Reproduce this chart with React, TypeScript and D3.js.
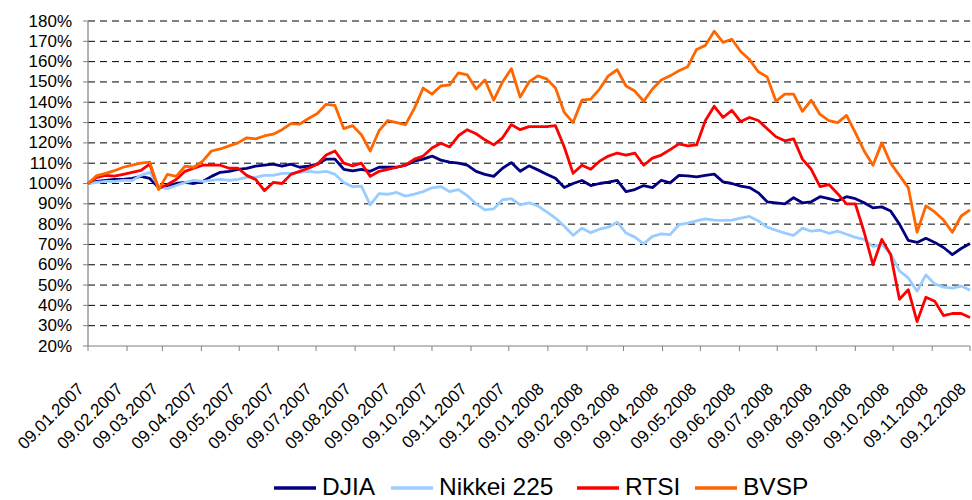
import * as d3 from 'd3';

// month labels on the x axis (dd.mm.yyyy)
const MONTH_LABELS = [
  '09.01.2007', '09.02.2007', '09.03.2007', '09.04.2007', '09.05.2007', '09.06.2007',
  '09.07.2007', '09.08.2007', '09.09.2007', '09.10.2007', '09.11.2007', '09.12.2007',
  '09.01.2008', '09.02.2008', '09.03.2008', '09.04.2008', '09.05.2008', '09.06.2008',
  '09.07.2008', '09.08.2008', '09.09.2008', '09.10.2008', '09.11.2008', '09.12.2008',
];

const Y_TICKS = [20, 30, 40, 50, 60, 70, 80, 90, 100, 110, 120, 130, 140, 150, 160, 170, 180];

// weekly readings (every Tuesday, 09.01.2007 .. 09.12.2008), % of start level
const DJIA = [
  100, 101, 101.5, 102, 102, 102.5, 103.5, 102.5, 98, 99,
  100, 100.5, 100, 101, 103.5, 105.5, 106, 107, 107.5, 108.5,
  109, 109.5, 108.5, 109.5, 108, 108.5, 109.5, 112, 112, 107,
  106.2, 107, 106, 108, 108, 108, 109, 111, 112, 113.5,
  111.5, 110.5, 110, 109, 106, 104.5, 103.5, 107.5, 110.3, 106,
  108.7, 106.7, 104.6, 102.6, 98, 100, 101.5, 99, 100, 100.7,
  101.5, 96, 97, 99, 98, 101.6, 100.3, 104, 103.8, 103.3,
  104, 104.6, 100.8, 100, 98.7, 98, 95.4, 91, 90.5, 90,
  93, 90.5, 91, 93.5, 92.5, 91.5, 93.5, 92.5, 90.5, 88,
  88.5, 86.5, 80, 72, 71, 73, 71, 68.5, 65, 68, 70.5,
];

const NIKKEI = [
  100, 100.5, 101, 101, 101.5, 101.5, 104, 105.5, 98.5, 97.5,
  99, 100.5, 101.5, 101, 101.5, 102, 101.5, 102, 103, 103,
  104, 104, 105, 105, 105.5, 106, 105.5, 106, 104.6, 100.5,
  98.4, 98.7, 89.5, 95, 94.7, 95.6, 93.8, 94.8, 96, 97.9,
  98.5, 96, 97, 94, 90, 87, 87.5, 92, 92.5, 89.5,
  90.5, 89, 86, 83, 79, 74.5, 78, 75.8, 77.5, 78.5,
  81, 75.6, 73.6, 70.3, 74, 75.2, 74.8, 79.7, 80.5, 81.6,
  82.6, 82, 81.8, 82, 83, 83.8, 81.6, 78.5, 77, 75.6,
  74.5, 78, 76.5, 77, 75.5, 76.5, 75, 73.5, 72.5, 69,
  70, 65.5, 57, 53.5, 47, 55, 50.5, 49, 48.5, 49.5, 47.5,
];

const RTSI = [
  100, 103, 104, 103.6, 104.5, 105.5, 106.5, 109.5, 97.5, 99.5,
  102, 106, 107.5, 109, 109, 109, 107.5, 107.5, 104, 102,
  96.5, 100.5, 100, 104.5, 106, 107.5, 109.5, 114, 116, 110,
  108.7, 110, 103.5, 106, 107, 108, 109, 112, 113.5, 117.5,
  119.8, 118, 123.5, 126.5, 124.5, 121.5, 119, 122.5, 129, 126.5,
  128, 128, 128, 128.5, 118, 105, 109, 107, 111, 113.5,
  115, 114, 115, 109, 112.5, 114, 116.7, 119.5, 118.5, 119,
  131, 138, 132.5, 136, 130.5, 132.5, 131, 127, 123, 121,
  122, 112, 107, 98.5, 99.5, 95, 90, 90, 76, 60,
  72.5, 65, 43, 47.7, 32, 44, 42, 35, 36, 36, 34,
];

const BVSP = [
  100, 103.9, 105, 106.3, 108, 109, 110, 110.5, 97, 104.5,
  103.5, 108.5, 108, 111, 116, 117, 118.5, 120, 122.5, 122,
  123.4, 124.3, 126.5, 129.5, 129.2, 132, 134.5, 139, 138.5, 127,
  128.5, 124, 116, 126, 131, 130, 129, 137, 147, 144,
  148, 148.5, 154.5, 153.5, 146.5, 151, 141, 150, 156.5, 142.5,
  150, 153, 151.5, 147, 135, 130, 141, 141.5, 146.5, 153,
  156, 148, 145.5, 140.5, 146.5, 151, 153, 155.5, 157.5, 166,
  168, 175, 169.5, 171, 165, 161, 155, 152.5, 140.5, 144,
  144, 135.5, 141, 134, 131, 130, 133.5, 125, 116, 109,
  120, 110, 104, 98, 76, 89, 86, 82, 76, 84, 87,
];

const SERIES = [
  { name: 'DJIA', values: DJIA, color: '#000080' },
  { name: 'Nikkei 225', values: NIKKEI, color: '#99CCFF' },
  { name: 'RTSI', values: RTSI, color: '#FF0000' },
  { name: 'BVSP', values: BVSP, color: '#FF6600' },
];

const W = 972;
const H = 500;
const plot = { left: 88, right: 970, top: 21, bottom: 346 };
const font = '"Liberation Sans", Arial, sans-serif';
// legend item left edges
const legendX = [274, 391, 577, 695];

export default function App() {
  const parse = d3.timeParse('%d.%m.%Y');
  const monthDates = MONTH_LABELS.map(s => parse(s) as Date);
  const start = monthDates[0];
  const end = monthDates[monthDates.length - 1];
  const weeks = d3.timeTuesday.range(start, d3.timeDay.offset(end, 1));

  const x = d3.scaleTime().domain([start, end]).range([plot.left, plot.right]);
  const y = d3.scaleLinear().domain([20, 180]).range([plot.bottom, plot.top]);

  const line = d3.line<number>()
    .x((_, i) => x(weeks[i]))
    .y(d => y(d));

  return (
    <svg width={W} height={H} style={{ position: 'absolute', left: 0, top: 0, background: '#fff' }}
      fontFamily={font}>
      <rect width={W} height={H} fill="#fff" />

      {/* grid lines */}
      {Y_TICKS.filter(t => t > 20).map(t => (
        <line key={t} x1={plot.left} x2={plot.right} y1={y(t)} y2={y(t)}
          stroke="#000" strokeWidth={1} strokeDasharray="7,5" />
      ))}

      {/* y axis */}
      <line x1={plot.left} x2={plot.left} y1={plot.top} y2={plot.bottom} stroke="#808080" strokeWidth={1.2} />
      {Y_TICKS.map(t => (
        <g key={t}>
          <line x1={plot.left - 5} x2={plot.left} y1={y(t)} y2={y(t)} stroke="#808080" />
          <text x={72} y={y(t)} textAnchor="end" dominantBaseline="central" fontSize={17} fill="#000">
            {t}%
          </text>
        </g>
      ))}

      {/* x axis */}
      <line x1={plot.left} x2={plot.right} y1={plot.bottom} y2={plot.bottom} stroke="#808080" strokeWidth={1.2} />
      {monthDates.map((d, i) => (
        <g key={MONTH_LABELS[i]}>
          <line x1={x(d)} x2={x(d)} y1={plot.bottom} y2={plot.bottom + 5} stroke="#808080" />
          <text transform={`translate(${x(d) - 3},${plot.bottom + 44}) rotate(-45)`}
            textAnchor="end" fontSize={17} fill="#000">
            {MONTH_LABELS[i]}
          </text>
        </g>
      ))}

      {/* series */}
      {SERIES.map(s => (
        <path key={s.name} d={line(s.values) ?? ''} fill="none" stroke={s.color}
          strokeWidth={2.8} strokeLinejoin="round" />
      ))}

      {/* legend */}
      {SERIES.map((s, i) => (
        <g key={s.name} transform={`translate(${legendX[i]},0)`}>
          <line x1={0} x2={42} y1={488} y2={488} stroke={s.color} strokeWidth={3.5} />
          <text x={48} y={495} fontSize={24.5} fill="#000">{s.name}</text>
        </g>
      ))}
    </svg>
  );
}
